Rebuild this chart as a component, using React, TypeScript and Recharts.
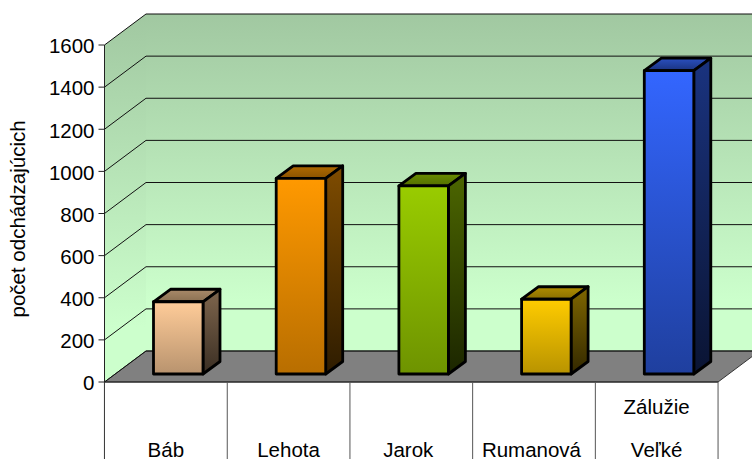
import { BarChart, Bar, XAxis, YAxis, CartesianGrid, usePlotArea } from "recharts";

const categories = ["Báb", "Lehota", "Jarok", "Rumanová", "Zálužie|Veľké"];
const attendees = [343, 929, 893, 355, 1440];
const yTicks = [0, 200, 400, 600, 800, 1000, 1200, 1400, 1600];

const chartData = categories.map((name, i) => ({ name, value: attendees[i] }));

// front face top colour, front face bottom colour
const barColors = [
  ["#ffcc99", "#b8936e"],
  ["#ff9900", "#b86e00"],
  ["#99cc00", "#6e9300"],
  ["#ffcc00", "#b89300"],
  ["#3366ff", "#1f3f9e"],
];
const sideColors = [
  ["#7f664d", "#3a2e23"],
  ["#7f4c00", "#2e1c00"],
  ["#4c6600", "#1c2600"],
  ["#7f6600", "#332900"],
  ["#1a337f", "#0a1433"],
];
const topColors = [
  ["#a98a6a", "#8a7052"],
  ["#b06a00", "#8a5300"],
  ["#6a8d00", "#536f00"],
  ["#b08d00", "#8a6f00"],
  ["#2a50c0", "#1a337f"],
];

const FONT = "'Liberation Sans', Arial, sans-serif";
const FONT_SIZE = 20.5;
const DEPTH_X = 41.5;
const DEPTH_Y = 31;
const BAR_DX = 17;
const BAR_DY = 12.5;
// the labels of Jarok and Rumanová sit a little left of their cell centre
const labelNudge = [0, 0, -3, -2.5, 0];

function Walls() {
  const plot = usePlotArea();
  if (!plot) return null;
  const { x, y, width, height } = plot;
  const b = y + height;
  const r = x + width;
  return (
    <g>
      <polygon
        points={`${x + DEPTH_X},${y - DEPTH_Y} ${r + DEPTH_X},${y - DEPTH_Y} ${r + DEPTH_X},${b - DEPTH_Y} ${x + DEPTH_X},${b - DEPTH_Y}`}
        fill="url(#wallFill)"
      />
      <polygon
        points={`${x},${y} ${x + DEPTH_X},${y - DEPTH_Y} ${x + DEPTH_X},${b - DEPTH_Y} ${x},${b}`}
        fill="url(#wallFill)"
      />
      <polygon
        points={`${x},${b} ${x + DEPTH_X},${b - DEPTH_Y} ${r + DEPTH_X},${b - DEPTH_Y} ${r},${b}`}
        fill="#808080"
        stroke="#333"
        strokeWidth={1}
      />
    </g>
  );
}

function GridLine(props: any) {
  const { x1, y1, x2 } = props;
  return (
    <g stroke="#111" strokeWidth={1} fill="none">
      <line x1={x1} y1={y1} x2={x1 + DEPTH_X} y2={y1 - DEPTH_Y} />
      <line x1={x1 + DEPTH_X} y1={y1 - DEPTH_Y} x2={x2 + DEPTH_X} y2={y1 - DEPTH_Y} />
    </g>
  );
}

function Box3D(props: any) {
  const { x, y, width, height, index } = props;
  const left = x + 12;
  const top = y - 8;
  const right = left + width;
  const bottom = top + height;
  return (
    <g stroke="#000" strokeWidth={2.8} strokeLinejoin="round">
      <polygon
        points={`${left},${top} ${left + BAR_DX},${top - BAR_DY} ${right + BAR_DX},${top - BAR_DY} ${right},${top}`}
        fill={`url(#top${index})`}
      />
      <polygon
        points={`${right},${top} ${right + BAR_DX},${top - BAR_DY} ${right + BAR_DX},${bottom - BAR_DY} ${right},${bottom}`}
        fill={`url(#side${index})`}
      />
      <rect x={left} y={top} width={width} height={height} fill={`url(#front${index})`} />
    </g>
  );
}

function CategoryTick(props: any) {
  const { x, y, payload, index } = props;
  const band = 122.8;
  const lines = String(payload.value).split("|");
  const labelY = y + 75;
  const edge = x + band / 2;
  return (
    <g>
      {index === 0 && <line x1={x - band / 2} y1={y} x2={x - band / 2} y2={y + 80} stroke="#333" />}
      <line x1={edge} y1={y} x2={edge} y2={y + 80} stroke="#555" />
      {lines.map((t: string, i: number) => (
        <text
          key={t}
          x={x + labelNudge[index]}
          y={labelY - (lines.length - 1 - i) * 43}
          textAnchor="middle"
          fontFamily={FONT}
          fontSize={FONT_SIZE}
          fill="#000"
        >
          {t}
        </text>
      ))}
    </g>
  );
}

export default function App() {
  return (
    <div style={{ position: "absolute", left: 0, top: 0, width: 752, height: 459, overflow: "hidden" }}>
      <BarChart
        width={752}
        height={459}
        data={chartData}
        barSize={49.5}
        margin={{ top: 45, right: 34, bottom: 0, left: 34.5 }}
      >
        <defs>
          <linearGradient id="wallFill" x1="0" y1="0" x2="0" y2="1">
            <stop offset="0" stopColor="#a1c8a1" />
            <stop offset="0.85" stopColor="#ccffcc" />
            <stop offset="1" stopColor="#ccffcc" />
          </linearGradient>
          {barColors.map((c, i) => (
            <linearGradient key={i} id={`front${i}`} x1="0" y1="0" x2="0" y2="1">
              <stop offset="0" stopColor={c[0]} />
              <stop offset="1" stopColor={c[1]} />
            </linearGradient>
          ))}
          {sideColors.map((c, i) => (
            <linearGradient key={i} id={`side${i}`} x1="0" y1="0" x2="0" y2="1">
              <stop offset="0" stopColor={c[0]} />
              <stop offset="1" stopColor={c[1]} />
            </linearGradient>
          ))}
          {topColors.map((c, i) => (
            <linearGradient key={i} id={`top${i}`} x1="0" y1="0" x2="0" y2="1">
              <stop offset="0" stopColor={c[0]} />
              <stop offset="1" stopColor={c[1]} />
            </linearGradient>
          ))}
        </defs>
        <Walls />
        <CartesianGrid zIndex={1} vertical={false} horizontal={(p: any) => <GridLine key={p.key} {...p} />} />
        <XAxis
          dataKey="name"
          interval={0}
          height={77}
          axisLine={{ stroke: "#222" }}
          tickLine={false}
          tickSize={0}
          tickMargin={0}
          tick={CategoryTick}
        />
        <YAxis
          type="number"
          width={70}
          domain={[0, 1600]}
          ticks={yTicks}
          interval={0}
          axisLine={{ stroke: "#222" }}
          tickLine={{ stroke: "#222" }}
          tickSize={6}
          tickMargin={4}
          tick={{ fill: "#000", fontFamily: FONT, fontSize: FONT_SIZE, dy: 1 }}
          label={{
            value: "počet odchádzajúcich",
            angle: -90,
            position: "insideLeft",
            dx: -22,
            dy: 104,
            style: { fill: "#000", fontFamily: FONT, fontSize: FONT_SIZE },
          }}
        />
        <Bar dataKey="value" shape={Box3D} isAnimationActive={false} />
      </BarChart>
    </div>
  );
}
